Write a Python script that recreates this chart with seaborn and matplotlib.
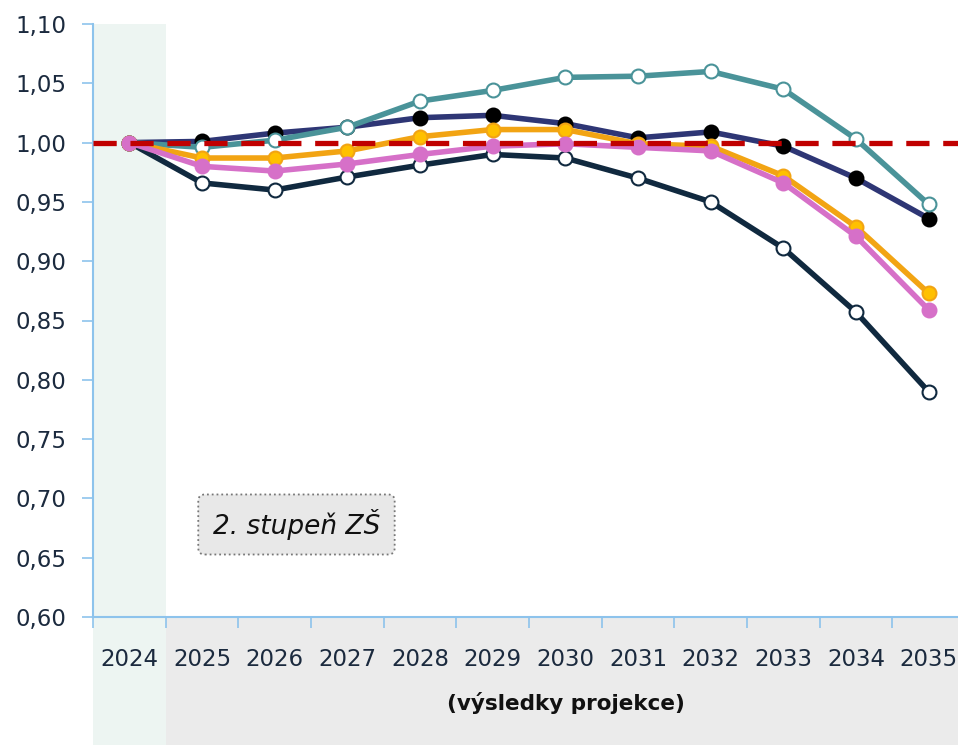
import matplotlib
matplotlib.use("Agg")
import matplotlib.pyplot as plt
import seaborn as sns
import pandas as pd
from matplotlib.patches import Rectangle
from matplotlib.ticker import FuncFormatter, MultipleLocator, FixedLocator

years = [2024, 2025, 2026, 2027, 2028, 2029, 2030, 2031, 2032, 2033, 2034, 2035]
teal = [1.000, 0.996, 1.002, 1.013, 1.035, 1.044, 1.055, 1.056, 1.060, 1.045, 1.003, 0.948]
navy = [1.000, 1.001, 1.008, 1.013, 1.021, 1.023, 1.016, 1.004, 1.009, 0.997, 0.970, 0.936]
orange = [1.000, 0.987, 0.987, 0.993, 1.005, 1.011, 1.011, 0.999, 0.997, 0.972, 0.929, 0.873]
pink = [1.000, 0.980, 0.976, 0.982, 0.990, 0.997, 0.999, 0.996, 0.993, 0.966, 0.921, 0.859]
dark = [1.000, 0.966, 0.960, 0.971, 0.981, 0.990, 0.987, 0.970, 0.950, 0.911, 0.857, 0.790]
ref_value = 1.0
box_label = "2. stupeň ZŠ"
x_note = "(výsledky projekce)"

sns.set_style("white")
plt.rcParams['font.family'] = ['DejaVu Sans']

fig = plt.figure(figsize=(9.58, 7.45), dpi=100)
L, B = 93 / 958, (745 - 617) / 745
W, H = 872 / 958, 593 / 745
ax = fig.add_axes([L, B, W, H])
ax.set_facecolor("white")

x0, x1 = 2023.5, 2035.5
ax.set_xlim(x0, x1)
ax.set_ylim(0.60, 1.10)

# shaded background areas
ax.axvspan(2023.5, 2024.5, color="#EDF5F2", zorder=0, lw=0)
px_per_year = W / (x1 - x0)
fig.add_artist(Rectangle((L, 0), px_per_year, B, transform=fig.transFigure,
                         facecolor="#EDF5F2", edgecolor="none", zorder=-5))
fig.add_artist(Rectangle((L + px_per_year, 0), 1 - (L + px_per_year), B,
                         transform=fig.transFigure, facecolor="#EBEBEB",
                         edgecolor="none", zorder=-5))

series = [
    (teal, "#4A9399", "white", "#4A9399"),
    (navy, "#2E3675", "black", "black"),
    (orange, "#F2A413", "#FFC000", "#F2A413"),
    (pink, "#D670C8", "#D670C8", "#D670C8"),
    (dark, "#10293F", "white", "#10293F"),
]
order = [4, 1, 0, 2, 3]
for z, i in enumerate(order):
    vals, lc, fc, ec = series[i]
    df = pd.DataFrame({"year": years, "value": vals})
    sns.lineplot(data=df, x="year", y="value", ax=ax, color=lc, lw=4.0,
                 marker="o", markersize=10, markerfacecolor=fc,
                 markeredgecolor=ec, markeredgewidth=1.5, zorder=3 + z)

ax.axhline(ref_value, color="#C00000", lw=3.8, ls=(0, (4.4, 2.6)), zorder=10)

# axes styling
for s in ["top", "right"]:
    ax.spines[s].set_visible(False)
for s in ["left", "bottom"]:
    ax.spines[s].set_color("#8DC3EC")
    ax.spines[s].set_linewidth(1.5)

ax.yaxis.set_major_locator(MultipleLocator(0.05))
ax.yaxis.set_major_formatter(FuncFormatter(lambda v, p: f"{v:.2f}".replace(".", ",")))
ax.set_xticks(years)
ax.set_xticklabels([str(y) for y in years])
ax.xaxis.set_minor_locator(FixedLocator([y + 0.5 for y in [2023] + years]))
ax.tick_params(axis="y", which="major", direction="out", length=8, width=1.2,
               color="#8DC3EC", labelsize=16.5, labelcolor="#1B2A3E", pad=11, left=True)
ax.tick_params(axis="x", which="major", length=0, labelsize=16.5,
               labelcolor="#1B2A3E", pad=22, bottom=True)
ax.tick_params(axis="x", which="minor", direction="out", length=8, width=1.2,
               color="#8DC3EC", bottom=True)
ax.set_xlabel("")
ax.set_ylabel("")

fig.text(566 / 958, 1 - 703 / 745, x_note,
         ha="center", va="center", fontsize=15.5, fontweight="bold", color="#111111")

ax.text(2026.3, 0.678, box_label, ha="center", va="center", fontsize=19,
        style="italic", color="#111111", zorder=12,
        bbox=dict(boxstyle="round,pad=0.55,rounding_size=0.25", facecolor="#E8E8E8",
                  edgecolor="#777777", linestyle=":", linewidth=1.3))

fig.savefig("out.png", dpi=100)
